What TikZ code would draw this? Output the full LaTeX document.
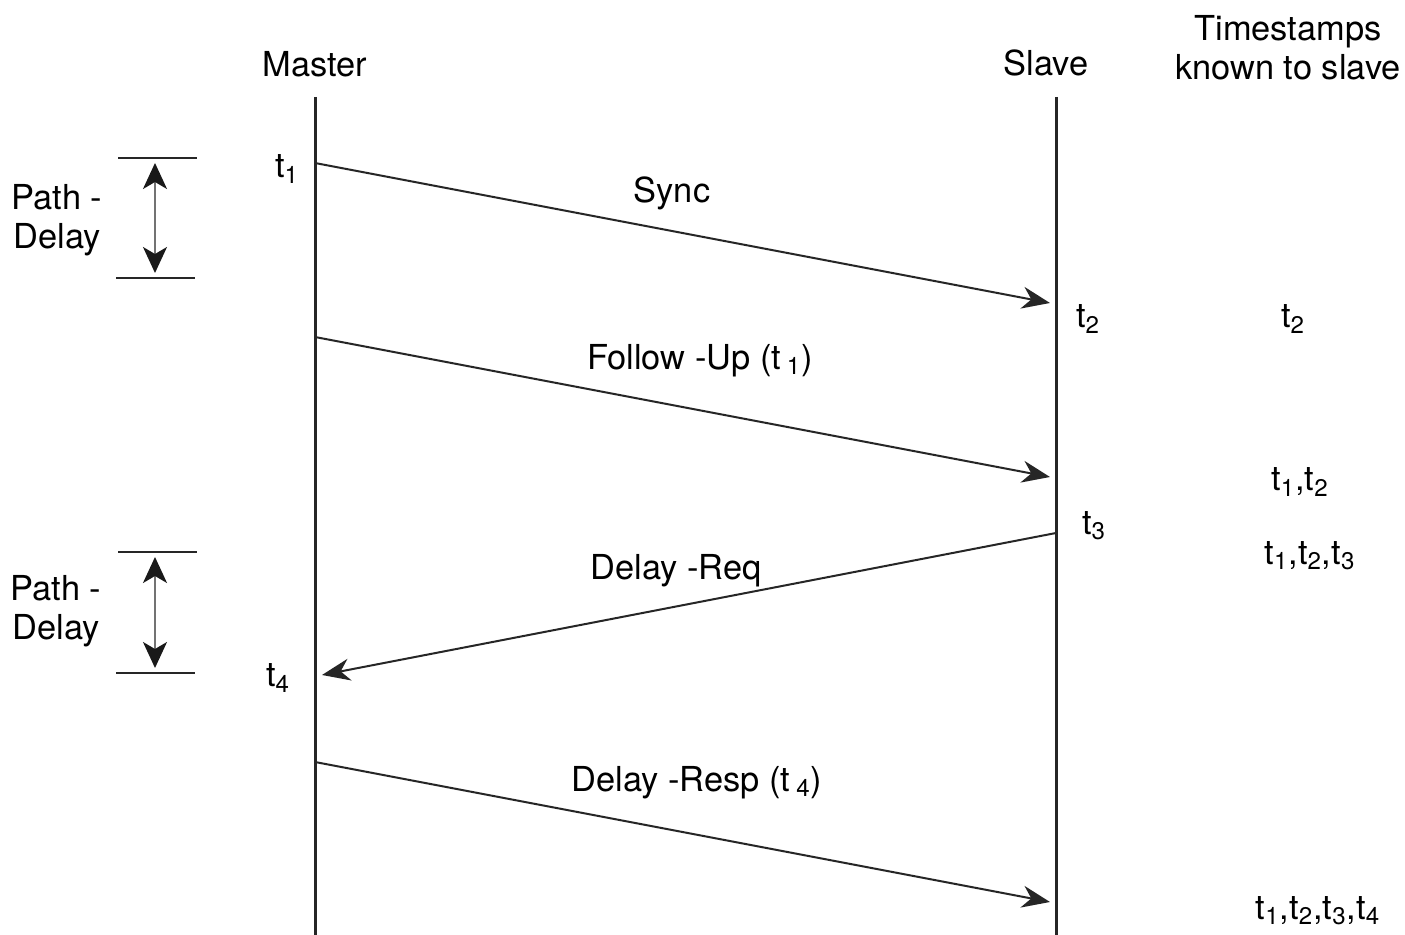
\documentclass[tikz,border=0pt]{standalone}
\usepackage{fontspec}
\setmainfont{TeX Gyre Heros}
\usetikzlibrary{arrows.meta}
\begin{document}
\begin{tikzpicture}[x=0.5pt,y=-0.5pt,
  lbl/.style={inner sep=0pt,font=\fontsize{17.2}{19.5}\selectfont},
  life/.style={line width=1.5pt,draw=black!85},
  msg/.style={line width=1pt,draw=black!85,-{Stealth[length=14pt,width=11pt,inset=4.5pt]}},
  bar/.style={line width=1.3pt,draw=black!85},
  pd/.style={line width=1pt,draw=black!55,{Stealth[length=13pt,width=12pt,inset=3.5pt,color=black!90]}-{Stealth[length=13pt,width=12pt,inset=3.5pt,color=black!90]}}
]
\useasboundingbox (0,0) rectangle (1405,935);
% lifelines
\coordinate (mtop) at (315,97);
\coordinate (mbot) at (315,935);
\coordinate (stop) at (1056,97);
\coordinate (sbot) at (1056,935);
\draw[life] (mtop) -- (mbot);
\draw[life] (stop) -- (sbot);
\node[lbl] (master) at (315,64) {Master};
\node[lbl] (slave) at (1046,63) {Slave};
\node[lbl,align=center] (ts) at (1288,48) {Timestamps\\known to slave};
% message endpoints
\coordinate (s1) at (315,163);
\coordinate (s2) at (1050,303);
\coordinate (f1) at (315,337);
\coordinate (f2) at (1050,477);
\coordinate (d1) at (1056,533);
\coordinate (d2) at (322,675);
\coordinate (r1) at (315,762);
\coordinate (r2) at (1050,902);
\draw[msg] (s1) -- (s2);
\draw[msg] (f1) -- (f2);
\draw[msg] (d1) -- (d2);
\draw[msg] (r1) -- (r2);
\node[lbl] (sync) at (672,193) {Sync};
\node[lbl] (fu) at (700,361) {Follow -Up (t\,\textsubscript{1})};
\node[lbl] (dreq) at (676,571) {Delay -Req};
\node[lbl] (dresp) at (697,783) {Delay -Resp (t\,\textsubscript{4})};
% time labels
\node[lbl] (t1) at (287,169) {t\textsubscript{1}};
\node[lbl] (t2) at (1088,319) {t\textsubscript{2}};
\node[lbl] (t3) at (1094,526) {t\textsubscript{3}};
\node[lbl] (t4) at (278,678) {t\textsubscript{4}};
% known timestamps
\node[lbl] (k1) at (1293,319) {t\textsubscript{2}};
\node[lbl] (k2) at (1300,482) {t\textsubscript{1},t\textsubscript{2}};
\node[lbl] (k3) at (1310,556) {t\textsubscript{1},t\textsubscript{2},t\textsubscript{3}};
\node[lbl] (k4) at (1318,911) {t\textsubscript{1},t\textsubscript{2},t\textsubscript{3},t\textsubscript{4}};
% path delay 1
\coordinate (a1l) at (118,158); \coordinate (a1r) at (197,158);
\coordinate (b1l) at (116,278); \coordinate (b1r) at (195,278);
\draw[bar] (a1l) -- (a1r);
\draw[bar] (b1l) -- (b1r);
\coordinate (p1t) at (155,163); \coordinate (p1b) at (155,273);
\draw[pd] (p1t) -- (p1b);
\node[lbl,align=center] (pd1) at (57,220) {Path -\\Delay};
% path delay 2
\coordinate (a2l) at (118,552); \coordinate (a2r) at (197,552);
\coordinate (b2l) at (116,673); \coordinate (b2r) at (195,673);
\draw[bar] (a2l) -- (a2r);
\draw[bar] (b2l) -- (b2r);
\coordinate (p2t) at (155,557); \coordinate (p2b) at (155,668);
\draw[pd] (p2t) -- (p2b);
\node[lbl,align=center] (pd2) at (56,611) {Path -\\Delay};
\end{tikzpicture}
\end{document}
